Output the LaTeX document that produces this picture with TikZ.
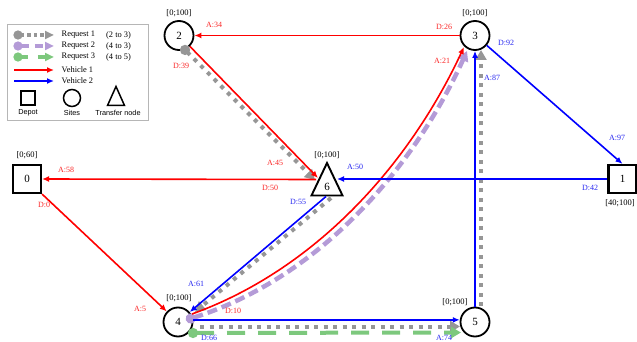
\documentclass[tikz,border=0pt]{standalone}
\usepackage{fontspec}
\setmainfont{Liberation Serif}
\setsansfont{Liberation Sans}
\usetikzlibrary{arrows.meta}
\definecolor{rq1}{RGB}{150,150,150}
\definecolor{rq2}{RGB}{180,155,215}
\definecolor{rq3}{RGB}{125,200,125}
\definecolor{lred}{RGB}{250,40,40}
\definecolor{lblue}{RGB}{40,40,240}
\begin{document}
\begin{tikzpicture}[x=1pt,y=-1pt,
 site/.style={circle,draw,line width=1.8pt,minimum size=29pt,inner sep=0pt,fill=white,font=\fontsize{11}{11}\selectfont},
 depot/.style={rectangle,draw,line width=2.2pt,minimum size=28pt,inner sep=0pt,fill=white,font=\fontsize{11}{11}\selectfont},
 tw/.style={font=\fontsize{8.5}{9}\selectfont,inner sep=0pt},
 lr/.style={lred,font=\fontsize{8}{8}\selectfont,inner sep=0pt},
 lb/.style={lblue,font=\fontsize{8}{8}\selectfont,inner sep=0pt},
 legt/.style={font=\fontsize{8.4}{8.4}\selectfont,inner sep=0pt,anchor=west},
 legs/.style={font=\sffamily\fontsize{7.3}{7.3}\selectfont,inner sep=0pt},
 v1/.style={red,line width=1.6pt,-{Latex[length=7pt,width=6pt]}},
 v2/.style={blue,line width=1.6pt,-{Latex[length=7pt,width=6pt]}},
 r1/.style={rq1,line width=4pt,dash pattern=on 4pt off 5.5pt},
 r2/.style={rq2,line width=4.5pt,dash pattern=on 10pt off 5pt},
 r3/.style={rq3,line width=4pt,dash pattern=on 18pt off 13pt},
 tipT/.style={-{Triangle[length=10pt,width=11pt]}},
 tipCT/.style={{Circle[length=10pt]}-{Triangle[length=10pt,width=11pt]}}
]
\useasboundingbox (0,0) rectangle (637,342);

% ---------- legend ----------
\draw[rq1!70,line width=0.8pt] (7,24) rectangle (148,120);
\coordinate (l1a) at (13.5,35); \coordinate (l1b) at (54,35);
\coordinate (l2a) at (13.5,46); \coordinate (l2b) at (54,46);
\coordinate (l3a) at (13.5,57); \coordinate (l3b) at (54,57);
\coordinate (l4a) at (14,70);   \coordinate (l4b) at (54,70);
\coordinate (l5a) at (14,81);   \coordinate (l5b) at (54,81);
\draw[rq1,line width=3.5pt,dash pattern=on 3.5pt off 3pt,{Circle[length=9pt]}-{Triangle[length=9pt,width=8pt]}] (l1a) -- (l1b);
\draw[rq2,line width=3.5pt,dash pattern=on 8pt off 6pt,{Circle[length=9pt]}-{Triangle[length=9pt,width=8pt]}] (l2a) -- (l2b);
\draw[rq3,line width=3.5pt,dash pattern=on 7pt off 10pt,{Circle[length=9pt]}-{Triangle[length=9pt,width=8pt]}] (l3a) -- (l3b);
\draw[v1] (l4a) -- (l4b);
\draw[v2] (l5a) -- (l5b);
\node[legt] (t1) at (61.5,35) {Request 1};
\node[legt] (t1b) at (106,35) {(2 to 3)};
\node[legt] (t2) at (61.5,46) {Request 2};
\node[legt] (t2b) at (106,46) {(4 to 3)};
\node[legt] (t3) at (61.5,57) {Request 3};
\node[legt] (t3b) at (106,57) {(4 to 5)};
\node[legt] (t4) at (61.5,70) {Vehicle 1};
\node[legt] (t5) at (61.5,81) {Vehicle 2};
\node[draw,line width=1.5pt,minimum size=14pt,inner sep=0pt] (lsq) at (28,98) {};
\node[draw,circle,line width=1.5pt,minimum size=17pt,inner sep=0pt] (lci) at (72,98) {};
\draw[line width=1.5pt,line join=miter] (116,86.5) -- (107.5,105.5) -- (124.5,105.5) -- cycle;
\node[legs] (ld) at (28,112.5) {Depot};
\node[legs] (ls) at (72,112.5) {Sites};
\node[legs] (lt) at (118,112.5) {Transfer node};

% ---------- nodes ----------
\node[depot] (n0) at (27,179) {0};
\node[depot] (n1) at (622.5,179) {1};
\node[site] (n2) at (179,35.5) {2};
\node[site] (n3) at (475,35.5) {3};
\node[site] (n4) at (178,322) {4};
\node[site] (n5) at (475,322) {5};
\coordinate (t6a) at (327,163);
\coordinate (t6l) at (311.5,195.5);
\coordinate (t6r) at (342.5,195.5);
\draw[line width=1.9pt,line join=miter,fill=white] (t6a) -- (t6l) -- (t6r) -- cycle;
\node[font=\fontsize{11}{11}\selectfont,inner sep=0pt] (n6) at (327,186.5) {6};

% time windows
\node[tw] (w0) at (27,155) {[0;60]};
\node[tw] (w1) at (620,203) {[40;100]};
\node[tw] (w2) at (179,13) {[0;100]};
\node[tw] (w3) at (475,13) {[0;100]};
\node[tw] (w6) at (327,155) {[0;100]};
\node[tw] (w4) at (179,298) {[0;100]};
\node[tw] (w5) at (455,302) {[0;100]};

% ---------- coordinates for connector ends ----------
\coordinate (g2s) at (181.5,46.4);
\coordinate (g6e) at (315,180);
\coordinate (g6s) at (331,198);
\coordinate (g4e) at (195,312);
\coordinate (g4s) at (200,326.5);
\coordinate (g5e) at (460,326.5);
\coordinate (g5s) at (481,306);
\coordinate (g3e) at (481,50);
\coordinate (p4s) at (186,320);
\coordinate (p3e) at (467,51);
\coordinate (gr4s) at (188,333);
\coordinate (gr5e) at (461,332.5);
\coordinate (r6e) at (318,178);
\coordinate (r6s) at (316,179.5);
\coordinate (r4s) at (192,314);
\coordinate (r3e) at (464,47);
\coordinate (b6s) at (326,196.5);
\coordinate (b6e) at (337,179);

% ---------- requests ----------
\draw[r1,tipCT] (g2s) -- (g6e);
\draw[r1,tipT] (g6s) -- (g4e);
\draw[r1,tipT] (g4s) -- (g5e);
\draw[r1,tipT] (g5s) -- (g3e);
\draw[r2,tipCT] (p4s) .. controls (316,279) and (412,172) .. (p3e);
\draw[r3,tipCT] (gr4s) -- (gr5e);

% ---------- vehicle 1 ----------
\draw[v1] (n0.south east) -- (n4);
\draw[v1] (r4s) .. controls (314,270) and (408,167) .. (r3e);
\draw[v1] (n3.west) -- (n2.east);
\draw[v1] (n2.south east) -- (r6e);
\draw[v1] (r6s) -- (n0.east);

% ---------- vehicle 2 ----------
\draw[v2] (b6s) -- (n4);
\draw[v2] (n4.8) -- (n5.172);
\draw[v2] (n5.north) -- (n3.south);
\draw[v2] (n3.-40) -- (n1.north);
\draw[v2] (n1.west) -- (b6e);

% ---------- labels ----------
\node[lr] at (214,25) {A:34};
\node[lr] at (181,66) {D:39};
\node[lr] at (444,27) {D:26};
\node[lr] at (442,61) {A:21};
\node[lb] at (506,43) {D:92};
\node[lb] at (492,78) {A:87};
\node[lr] at (66,170) {A:58};
\node[lr] at (44,205) {D:0};
\node[lr] at (275,163) {A:45};
\node[lr] at (270,188) {D:50};
\node[lb] at (355,167) {A:50};
\node[lb] at (298,202) {D:55};
\node[lb] at (617,138) {A:97};
\node[lb] at (590,188) {D:42};
\node[lb] at (196,284) {A:61};
\node[lr] at (140,309) {A:5};
\node[lr] at (233,311) {D:10};
\node[lb] at (209,338) {D:66};
\node[lb] at (444,338) {A:74};
\end{tikzpicture}
\end{document}
